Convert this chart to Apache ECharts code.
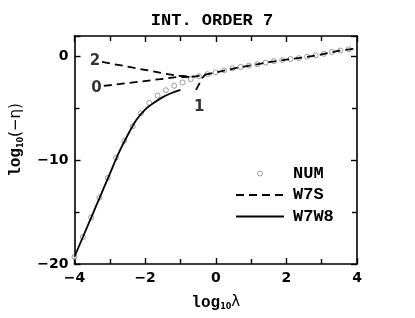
<!DOCTYPE html>
<html><head><meta charset="utf-8">
<script src="https://cdn.jsdelivr.net/npm/echarts@6/dist/echarts.min.js"></script>
<style>html,body{margin:0;padding:0;background:#fff}#c{width:415px;height:318px}</style>
</head><body><div id="c"></div>
<script>
// NUM circles
const numX = [-4.000,-3.765,-3.529,-3.294,-3.059,-2.824,-2.588,-2.353,-2.118,-1.882,-1.647,-1.412,-1.176,-0.941,-0.706,-0.471,-0.235,0.000,0.235,0.471,0.706,0.941,1.176,1.412,1.647,1.882,2.118,2.353,2.588,2.824,3.059,3.294,3.529,3.765];
const numY = [-19.3,-17.4,-15.5,-13.6,-11.7,-9.74,-8.1,-6.7,-5.45,-4.45,-3.75,-3.23,-2.8,-2.48,-2.16,-1.88,-1.68,-1.5,-1.32,-1.12,-0.98,-0.85,-0.72,-0.57,-0.42,-0.32,-0.22,-0.13,0.0,0.14,0.28,0.46,0.6,0.72];
// W7W8 solid
const solidX = [-4.0,-3.75,-3.5,-3.25,-3.0,-2.75,-2.5,-2.25,-2.0,-1.75,-1.5,-1.25,-1.0];
const solidY = [-19.3,-17.3,-15.3,-13.3,-11.3,-9.3,-7.6,-6.1,-5.1,-4.45,-3.9,-3.5,-3.2];
// W7S shared tail
const tailX = [-0.6,-0.3,0.0,0.5,1.0,1.5,2.0,2.5,3.0,3.5,4.0];
const tailY = [-1.92,-1.72,-1.52,-1.14,-0.83,-0.52,-0.28,-0.05,0.22,0.58,0.8];
// W7S branch heads (branch 2 carries the shared tail)
const br2X = [-3.22,-1.1], br2Y = [-0.5,-1.84];
const br0X = [-3.17,-1.1,-0.6], br0Y = [-2.82,-1.97,-1.92];
const br1X = [-0.56,-0.38,-0.3], br1Y = [-3.2,-2.05,-1.72];
// Branch labels
const lblNames = ['2','0','1'];
const lblX = [-3.42,-3.38,-0.47];
const lblY = [-0.45,-3.0,-4.9];

const zip = (a,b)=>a.map((v,i)=>[v,b[i]]);
const mono = '"Liberation Mono", "DejaVu Sans Mono", monospace';
const sans = '"DejaVu Sans", "Liberation Sans", sans-serif';
const minus = v => String(v).replace('-', '\u2212');

const axisCommon = {
  axisLine:{show:true,onZero:false,lineStyle:{color:'#000',width:1.6}},
  axisTick:{show:true,inside:true,length:6,lineStyle:{color:'#000',width:1.4}},
  minorTick:{show:true,splitNumber:2,length:5,lineStyle:{color:'#000',width:1.4}},
  splitLine:{show:false}
};
const dashStyle = {color:'#000',width:1.8,type:[8,5]};
const hidden = {color:'rgba(0,0,0,0)',borderWidth:0,opacity:0};
const nameRich = {
  a:{fontFamily:mono,fontWeight:'bold',fontSize:16,color:'#000'},
  s:{fontFamily:sans,fontWeight:'bold',fontSize:8,color:'#000',verticalAlign:'bottom',padding:[9,0,0,0]},
  b:{fontFamily:sans,fontSize:15,color:'#000'}
};

const chart = echarts.init(document.getElementById('c'));
chart.setOption({
  animation:false,
  title:{text:'INT. ORDER 7',left:212,top:12,textAlign:'center',padding:0,
    textStyle:{fontFamily:mono,fontWeight:'bold',fontSize:17,color:'#000'}},
  grid:{left:74,right:58,top:36,bottom:54},
  legend:{data:[{name:'NUM',itemStyle:{borderWidth:0.8}},{name:'W7S',itemStyle:hidden},{name:'W7W8',itemStyle:hidden}],
    orient:'vertical',left:235,top:165,padding:0,itemWidth:48,itemHeight:5,itemGap:4.5,
    textStyle:{fontFamily:mono,fontWeight:'bold',fontSize:17,color:'#000',padding:[0,0,0,4]}},
  xAxis:[
    Object.assign({type:'value',min:-4,max:4,interval:2,position:'bottom',
      name:'{a|log}{s|10}{b|λ}',nameLocation:'middle',nameGap:30,
      nameTextStyle:{rich:nameRich},
      axisLabel:{margin:7,fontFamily:sans,fontWeight:'bold',fontSize:14,color:'#000',formatter:minus}},axisCommon),
    Object.assign({type:'value',min:-4,max:4,interval:2,position:'top',axisLabel:{show:false}},axisCommon)
  ],
  yAxis:[
    Object.assign({type:'value',min:-20,max:2,interval:10,position:'left',
      name:'{p|}{a|log}{s|10}{b|(\u2212η)}',nameLocation:'middle',nameGap:50,nameRotate:90,
      nameTextStyle:{rich:Object.assign({p:{width:20}},nameRich)},
      axisLabel:{margin:6,fontFamily:sans,fontWeight:'bold',fontSize:14,color:'#000',formatter:minus,showMaxLabel:false}},axisCommon),
    Object.assign({type:'value',min:-20,max:2,interval:10,position:'right',axisLabel:{show:false}},axisCommon)
  ],
  series:[
    {name:'NUM',type:'scatter',data:zip(numX,numY),symbol:'circle',symbolSize:5,
      itemStyle:{color:'#fff',borderColor:'#666',borderWidth:0.8},z:1},
    {name:'W7S',type:'line',data:zip(br2X.concat(tailX),br2Y.concat(tailY)),symbol:'none',lineStyle:dashStyle,itemStyle:{color:'#000'},z:3},
    {name:'W7S',type:'line',data:zip(br0X,br0Y),symbol:'none',lineStyle:dashStyle,itemStyle:{color:'#000'},z:3},
    {name:'W7S',type:'line',data:zip(br1X,br1Y),symbol:'none',lineStyle:dashStyle,itemStyle:{color:'#000'},z:3},
    {name:'W7W8',type:'line',data:zip(solidX,solidY),symbol:'none',smooth:0.3,lineStyle:{color:'#000',width:1.8},itemStyle:{color:'#000'},z:3},
    {name:'labels',type:'scatter',symbolSize:0,silent:true,
      data:lblNames.map((n,i)=>({name:n,value:[lblX[i],lblY[i]]})),
      label:{show:true,position:'inside',formatter:'{b}',fontFamily:sans,fontWeight:'bold',fontSize:15,color:'#000'}}
  ]
});
</script></body></html>
